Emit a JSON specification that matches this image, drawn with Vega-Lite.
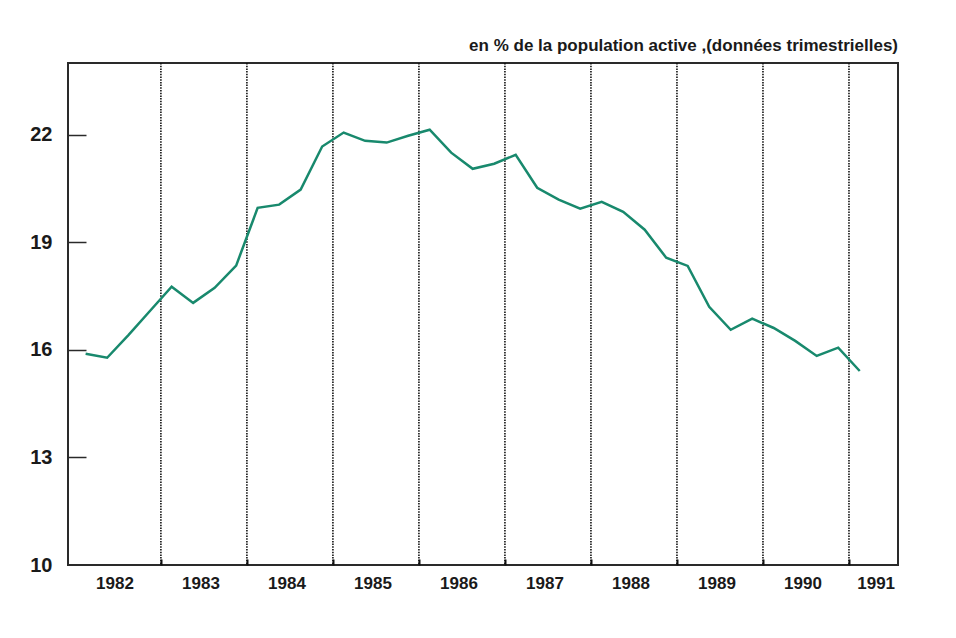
{
  "$schema": "https://vega.github.io/schema/vega-lite/v6.json",
  "autosize": "none",
  "padding": {"left": 68, "top": 63, "right": 58, "bottom": 73},
  "width": 830,
  "height": 502,
  "background": "white",
  "config": {
    "view": {"stroke": "#2a2a2a", "strokeWidth": 2},
    "font": "Liberation Sans"
  },
  "title": {
    "text": "en % de la population active ,(données trimestrielles)",
    "anchor": "end",
    "frame": "group",
    "baseline": "alphabetic",
    "offset": -6,
    "fontSize": 17,
    "fontWeight": "bold",
    "font": "Liberation Sans",
    "color": "#1a1a1a"
  },
  "datasets": {
    "series": [
      {"t": 1982.125, "v": 15.89},
      {"t": 1982.375, "v": 15.78},
      {"t": 1982.625, "v": 16.42},
      {"t": 1982.875, "v": 17.09},
      {"t": 1983.125, "v": 17.76},
      {"t": 1983.375, "v": 17.31},
      {"t": 1983.625, "v": 17.73},
      {"t": 1983.875, "v": 18.35},
      {"t": 1984.125, "v": 19.96},
      {"t": 1984.375, "v": 20.05},
      {"t": 1984.625, "v": 20.47},
      {"t": 1984.875, "v": 21.67},
      {"t": 1985.125, "v": 22.06},
      {"t": 1985.375, "v": 21.83},
      {"t": 1985.625, "v": 21.78},
      {"t": 1985.875, "v": 21.97},
      {"t": 1986.125, "v": 22.14},
      {"t": 1986.375, "v": 21.5},
      {"t": 1986.625, "v": 21.05},
      {"t": 1986.875, "v": 21.19},
      {"t": 1987.125, "v": 21.44},
      {"t": 1987.375, "v": 20.52},
      {"t": 1987.625, "v": 20.19},
      {"t": 1987.875, "v": 19.94},
      {"t": 1988.125, "v": 20.13},
      {"t": 1988.375, "v": 19.85},
      {"t": 1988.625, "v": 19.35},
      {"t": 1988.875, "v": 18.57},
      {"t": 1989.125, "v": 18.34},
      {"t": 1989.375, "v": 17.2},
      {"t": 1989.625, "v": 16.56},
      {"t": 1989.875, "v": 16.87},
      {"t": 1990.125, "v": 16.61},
      {"t": 1990.375, "v": 16.25},
      {"t": 1990.625, "v": 15.83},
      {"t": 1990.875, "v": 16.06},
      {"t": 1991.125, "v": 15.41}
    ],
    "years": [
      {"year": 1983}, {"year": 1984}, {"year": 1985}, {"year": 1986},
      {"year": 1987}, {"year": 1988}, {"year": 1989}, {"year": 1990}, {"year": 1991}
    ],
    "yticks": [{"v": 13}, {"v": 16}, {"v": 19}, {"v": 22}]
  },
  "layer": [
    {
      "data": {"name": "years"},
      "mark": {"type": "rule", "color": "#111", "strokeWidth": 1.6, "strokeDash": [1.5, 1.2]},
      "encoding": {
        "x": {
          "field": "year",
          "type": "quantitative",
          "scale": {"domain": [1981.92, 1991.57], "nice": false, "zero": false},
          "axis": {
            "values": [1982.46, 1983.46, 1984.46, 1985.46, 1986.46, 1987.46, 1988.46, 1989.46, 1990.46, 1991.31],
            "labelExpr": "floor(datum.value)",
            "title": null,
            "domain": false,
            "ticks": false,
            "grid": false,
            "labelPadding": 10,
            "labelFontSize": 17,
            "labelFontWeight": "bold",
            "labelColor": "#1a1a1a",
            "labelFlush": false
          }
        }
      }
    },
    {
      "data": {"name": "years"},
      "mark": {"type": "rule", "strokeOpacity": 0},
      "encoding": {
        "x": {
          "field": "year",
          "type": "quantitative",
          "axis": {
            "orient": "top",
            "offset": -502,
            "values": [1983, 1984, 1985, 1986, 1987, 1988, 1989, 1990, 1991],
            "title": null,
            "domain": false,
            "grid": false,
            "labels": false,
            "ticks": true,
            "tickSize": 6,
            "tickWidth": 2,
            "tickColor": "#111"
          }
        }
      }
    },
    {
      "data": {"name": "series"},
      "mark": {"type": "line", "color": "#18896d", "strokeWidth": 2.5},
      "encoding": {
        "x": {"field": "t", "type": "quantitative", "axis": null},
        "y": {
          "field": "v",
          "type": "quantitative",
          "scale": {"domain": [10, 24], "nice": false, "zero": false},
          "axis": {
            "values": [10, 13, 16, 19, 22],
            "title": null,
            "domain": false,
            "grid": false,
            "ticks": false,
            "labelPadding": 16,
            "labelFontSize": 20,
            "labelFontWeight": "bold",
            "labelColor": "#1a1a1a"
          }
        }
      }
    },
    {
      "data": {"name": "yticks"},
      "mark": {"type": "rule", "strokeOpacity": 0},
      "encoding": {
        "y": {
          "field": "v",
          "type": "quantitative",
          "axis": {
            "orient": "right",
            "offset": -830,
            "values": [13, 16, 19, 22],
            "title": null,
            "domain": false,
            "grid": false,
            "labels": false,
            "ticks": true,
            "tickSize": 18,
            "tickWidth": 1.5,
            "tickColor": "#2a2a2a"
          }
        }
      }
    }
  ],
  "resolve": {"axis": {"y": "independent", "x": "independent"}}
}
